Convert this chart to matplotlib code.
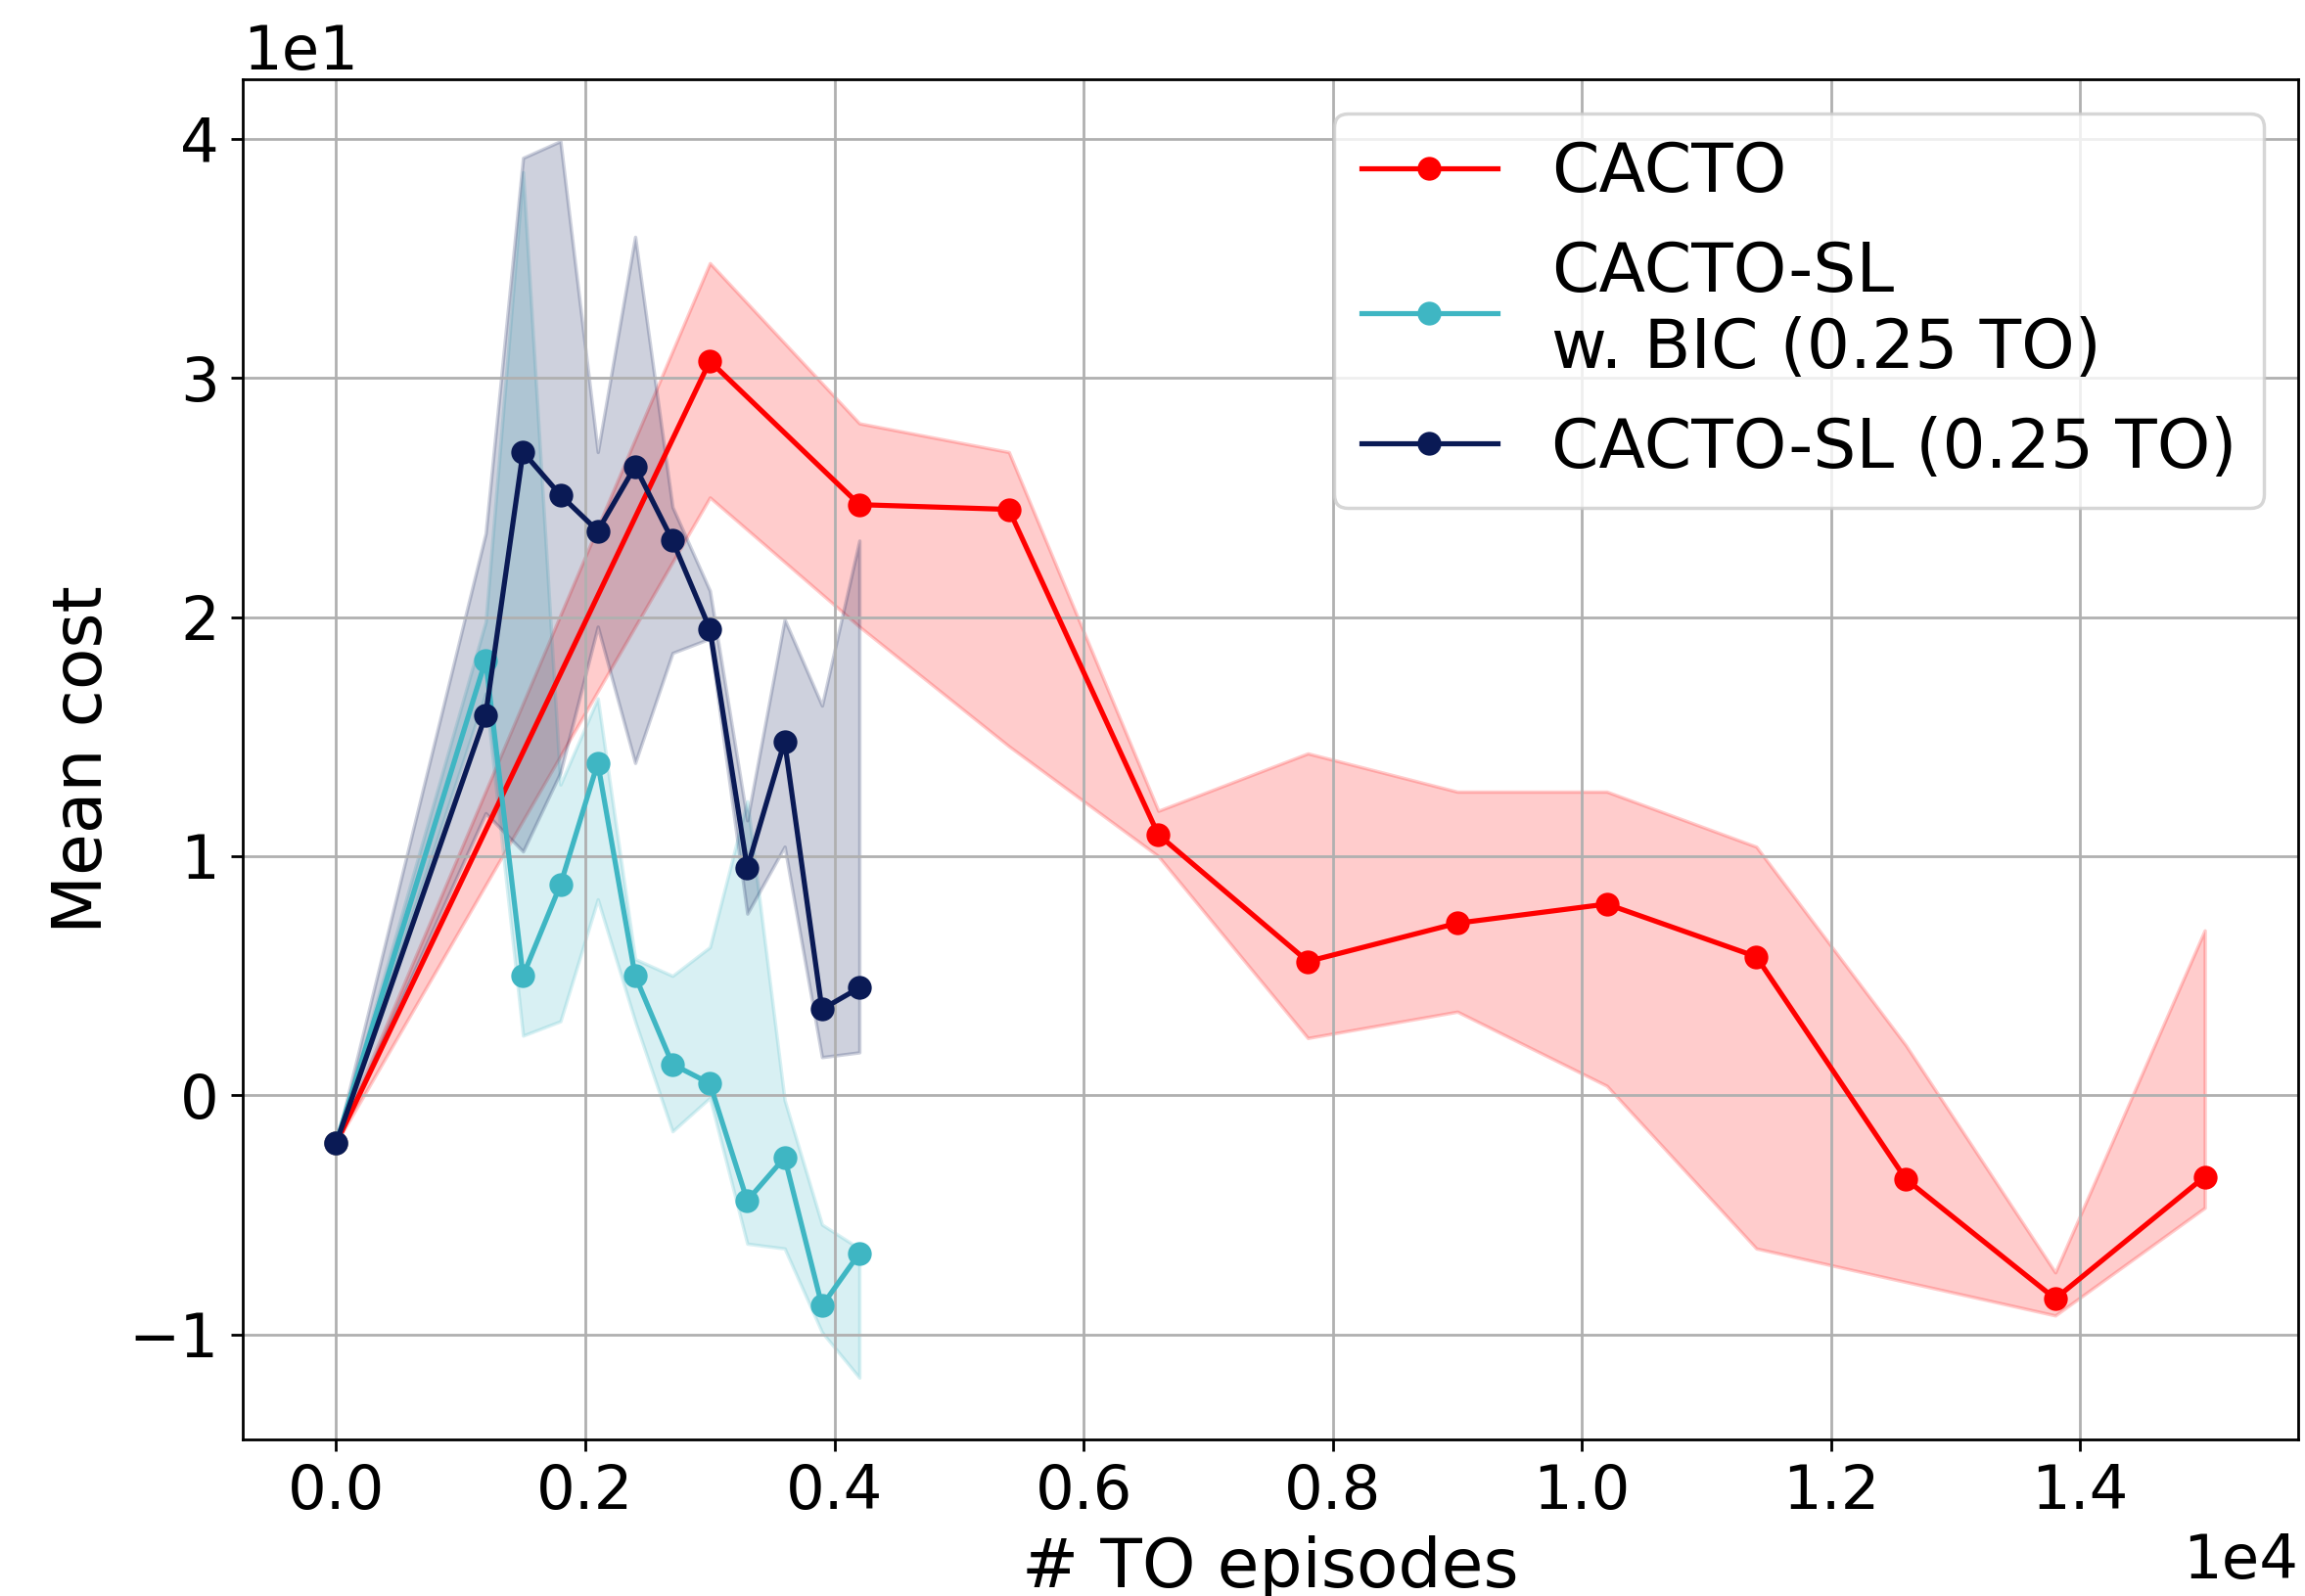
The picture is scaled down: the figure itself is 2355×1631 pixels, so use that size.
import matplotlib
matplotlib.use("Agg")
import matplotlib.pyplot as plt

# CACTO
cacto_x = [0, 3000, 4200, 5400, 6600, 7800, 9000, 10200, 11400, 12600, 13800, 15000]
cacto_mean = [-2.0, 30.7, 24.7, 24.5, 10.9, 5.6, 7.2, 8.0, 5.8, -3.5, -8.5, -3.4]
cacto_upper = [-2.0, 34.8, 28.1, 26.9, 11.9, 14.3, 12.7, 12.7, 10.4, 2.1, -7.4, 6.9]
cacto_lower = [-2.0, 25.0, 19.6, 14.6, 10.0, 2.4, 3.5, 0.4, -6.4, -7.8, -9.2, -4.7]

# CACTO-SL w. BIC (0.25 TO)
bic_x = [0, 1200, 1500, 1800, 2100, 2400, 2700, 3000, 3300, 3600, 3900, 4200]
bic_mean = [-2.0, 18.2, 5.0, 8.8, 13.9, 5.0, 1.3, 0.5, -4.4, -2.6, -8.8, -6.6]
bic_upper = [-2.0, 19.8, 38.6, 13.0, 16.6, 5.7, 5.0, 6.2, 12.3, -0.2, -5.4, -6.4]
bic_lower = [-2.0, 16.8, 2.5, 3.1, 8.2, 3.1, -1.5, -0.1, -6.2, -6.4, -9.9, -11.8]

# CACTO-SL (0.25 TO)
sl_x = [0, 1200, 1500, 1800, 2100, 2400, 2700, 3000, 3300, 3600, 3900, 4200]
sl_mean = [-2.0, 15.9, 26.9, 25.1, 23.6, 26.3, 23.2, 19.5, 9.5, 14.8, 3.6, 4.5]
sl_upper = [-2.0, 23.5, 39.2, 39.9, 26.9, 35.9, 24.6, 21.1, 11.5, 19.9, 16.3, 23.2]
sl_lower = [-2.0, 11.8, 10.2, 13.5, 19.6, 13.9, 18.5, 19.1, 7.6, 10.4, 1.6, 1.8]

labels = ["CACTO", "CACTO-SL\nw. BIC (0.25 TO)", "CACTO-SL (0.25 TO)"]
colors = ["#ff0000", "#3fb6c3", "#0a1a55"]


def main():
    fig = plt.figure(figsize=(2355 / 250, 1631 / 250), dpi=250)
    ax = fig.add_axes([248 / 2355, 1 - 1471 / 1631, 2100 / 2355, 1390 / 1631])

    series = [
        (cacto_x, cacto_mean, cacto_lower, cacto_upper),
        (bic_x, bic_mean, bic_lower, bic_upper),
        (sl_x, sl_mean, sl_lower, sl_upper),
    ]
    for (x, m, lo, hi), lab, col in zip(series, labels, colors):
        ax.plot(x, m, marker="o", color=col, label=lab)
        ax.fill_between(x, lo, hi, color=col, alpha=0.2)

    ax.ticklabel_format(style="sci", axis="both", scilimits=(0, 0))
    ax.tick_params(labelsize=18)
    ax.xaxis.get_offset_text().set_fontsize(18)
    ax.yaxis.get_offset_text().set_fontsize(18)
    ax.set_xlabel("# TO episodes", fontsize=20)
    ax.set_ylabel("Mean cost", fontsize=20)
    ax.grid(True)
    ax.legend(loc="upper right", fontsize=20)

    fig.savefig("out.png", dpi=250)


if __name__ == "__main__":
    main()
